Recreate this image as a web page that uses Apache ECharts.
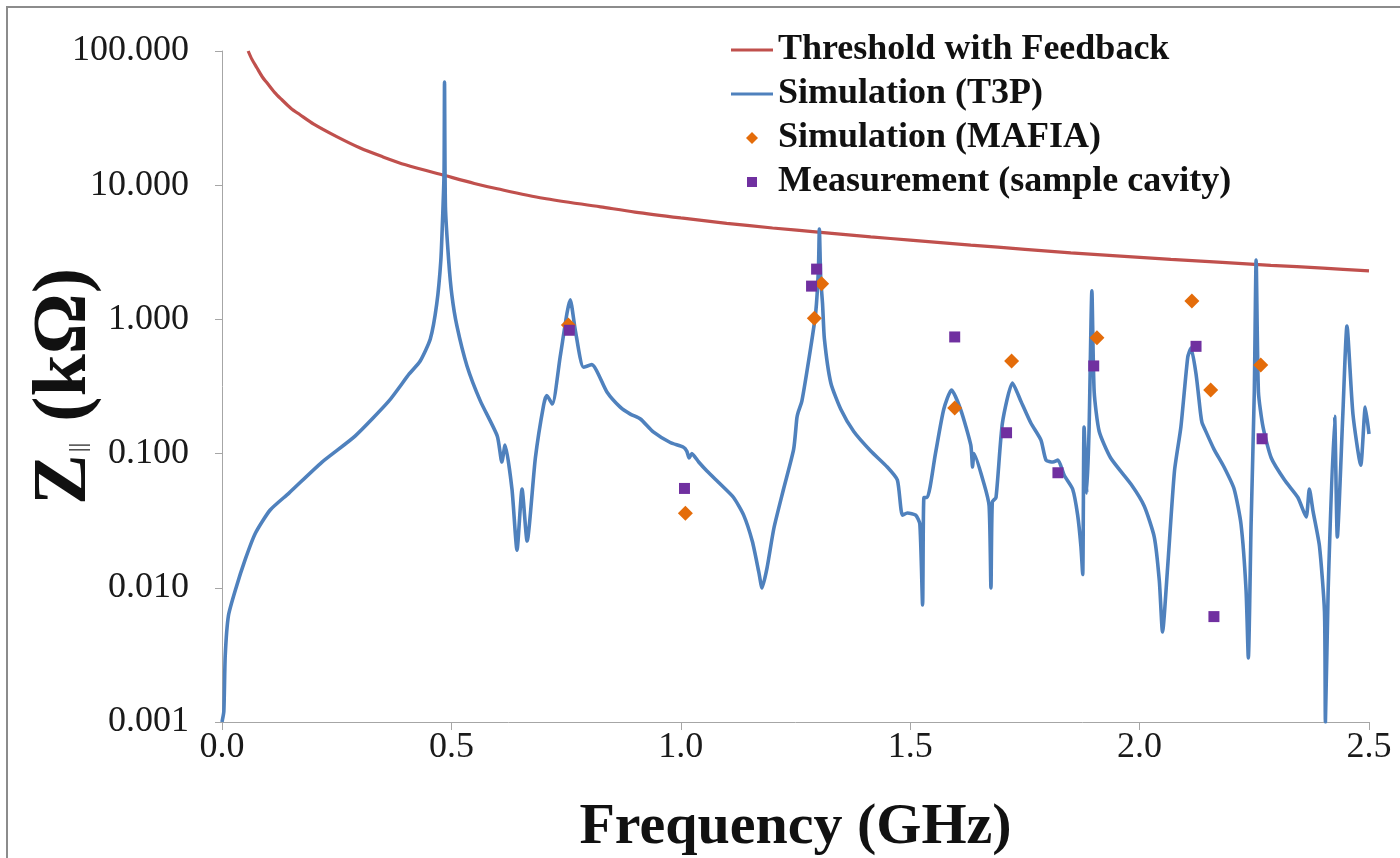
<!DOCTYPE html>
<html>
<head>
<meta charset="utf-8">
<script src="https://cdn.jsdelivr.net/npm/echarts@6/dist/echarts.min.js"></script>
<style>
html,body{margin:0;padding:0;background:#fff;}
#chart{width:1400px;height:858px;}
</style>
</head>
<body>
<div id="chart"></div>
<script>
// ---- Data ----
const xTicks = ['0.0','0.5','1.0','1.5','2.0','2.5'];
const yTicks = ['0.001','0.010','0.100','1.000','10.000','100.000'];

const threshFreq = [0.057,0.065,0.076,0.088,0.098,0.115,0.13,0.15,0.17,0.2,0.25,0.3,0.35,0.4,0.486,0.55,0.6,0.7,0.825,0.9,1.0,1.1,1.2,1.305,1.414,1.5,1.632,1.75,1.85,1.95,2.068,2.18,2.286,2.4,2.5];
const threshZ    = [100,87,75,64,58,49,43.5,37.5,33.5,28.5,23,19,16.3,14.2,11.8,10.3,9.4,8.0,6.9,6.3,5.7,5.2,4.8,4.45,4.12,3.9,3.58,3.33,3.13,2.97,2.8,2.66,2.53,2.41,2.3];

const t3pFreq = [0.000,0.004,0.007,0.014,0.029,0.051,0.073,0.105,0.146,0.218,0.290,0.364,0.408,0.432,0.454,0.468,0.477,0.481,0.484,0.485,0.487,0.494,0.501,0.512,0.534,0.563,0.600,0.610,0.617,0.632,0.643,0.654,0.665,0.683,0.701,0.708,0.720,0.737,0.752,0.759,0.770,0.788,0.806,0.839,0.868,0.890,0.912,0.940,0.977,1.005,1.013,1.018,1.024,1.039,1.057,1.086,1.115,1.137,1.156,1.170,1.177,1.188,1.203,1.224,1.246,1.253,1.256,1.264,1.283,1.294,1.300,1.302,1.305,1.309,1.313,1.327,1.349,1.377,1.414,1.450,1.472,1.483,1.494,1.512,1.521,1.527,1.530,1.537,1.555,1.573,1.590,1.610,1.632,1.636,1.639,1.661,1.672,1.676,1.679,1.687,1.701,1.723,1.741,1.763,1.785,1.796,1.811,1.822,1.836,1.854,1.865,1.872,1.876,1.879,1.885,1.890,1.896,1.901,1.912,1.937,1.981,2.010,2.032,2.043,2.050,2.061,2.076,2.090,2.105,2.112,2.123,2.133,2.136,2.140,2.162,2.184,2.206,2.221,2.232,2.237,2.243,2.250,2.254,2.259,2.269,2.287,2.316,2.345,2.363,2.370,2.378,2.392,2.403,2.405,2.411,2.425,2.431,2.443,2.452,2.465,2.482,2.492,2.500];
const t3pZ    = [0.001,0.0012,0.0031,0.0062,0.0096,0.0164,0.0256,0.038,0.0508,0.0865,0.135,0.247,0.392,0.49,0.714,1.30,2.77,5.9,12.5,58.8,6.9,2.77,1.52,0.893,0.45,0.247,0.135,0.0865,0.116,0.0545,0.0191,0.0545,0.0223,0.0927,0.230,0.271,0.234,0.525,1.116,1.40,0.834,0.44,0.46,0.288,0.222,0.197,0.181,0.145,0.121,0.112,0.1045,0.0927,0.100,0.0865,0.0741,0.0593,0.0471,0.0348,0.0221,0.0131,0.00998,0.0141,0.0279,0.0545,0.108,0.184,0.204,0.247,0.612,1.12,2.38,4.72,2.0,1.30,0.714,0.336,0.213,0.146,0.1045,0.0794,0.0635,0.0348,0.0361,0.0348,0.0298,0.00745,0.0471,0.0471,0.100,0.213,0.298,0.213,0.116,0.0794,0.100,0.0593,0.0407,0.00998,0.0436,0.0471,0.169,0.336,0.247,0.169,0.126,0.0895,0.0865,0.0895,0.0687,0.0545,0.0348,0.0205,0.01256,0.158,0.0508,0.158,1.63,0.288,0.146,0.0927,0.0593,0.0407,0.0239,0.01125,0.00468,0.0141,0.0741,0.158,0.525,0.612,0.392,0.197,0.17,0.158,0.108,0.0794,0.0545,0.0298,0.00964,0.0030,0.0298,0.288,2.77,0.288,0.158,0.0927,0.0635,0.0471,0.0337,0.0545,0.0373,0.0205,0.0066,0.001,0.00964,0.19,0.0239,0.197,0.893,0.197,0.082,0.222,0.14];

const mafiaFreq = [0.755,1.010,1.291,1.307,1.597,1.721,1.907,2.114,2.155,2.264];
const mafiaZ    = [0.91,0.036,1.02,1.84,0.219,0.49,0.73,1.37,0.298,0.457];

const measFreq = [0.757,1.008,1.285,1.296,1.597,1.710,1.822,1.900,2.123,2.162,2.267];
const measZ    = [0.83,0.055,1.77,2.37,0.74,0.143,0.072,0.45,0.63,0.0061,0.129];

const seriesNames = ['Threshold with Feedback','Simulation (T3P)','Simulation (MAFIA)','Measurement (sample cavity)'];

// ---- Build chart ----
const zip = (a, b) => a.map((v, i) => [v, b[i]]);
const FONT = '"Liberation Serif", "Times New Roman", serif';
const C_RED = '#C0504D', C_BLUE = '#4F81BD', C_ORANGE = '#E46C0A', C_PURPLE = '#7030A0';

// legend icons: invisible corner points fix the 42x13 box so shapes are not stretched
const BOX = 'M0 0L0 0M42 13L42 13';
const ICON_LINE = 'path://' + BOX + 'M0 5H42V8H0Z';
const ICON_DIAMOND = 'path://' + BOX + 'M21 0.5L27 6.5L21 12.5L15 6.5Z';
const ICON_SQUARE = 'path://' + BOX + 'M16 1.5H26V11.5H16Z';

const chart = echarts.init(document.getElementById('chart'), null, {renderer: 'canvas'});
const option = {
  animation: false,
  backgroundColor: '#ffffff',
  graphic: [{
    type: 'rect', silent: true, z: -1,
    shape: {x: 7, y: 7, width: 1460, height: 920},
    style: {fill: 'none', stroke: '#8c8c8c', lineWidth: 2}
  }],
  grid: {left: 222, right: 31, top: 51, bottom: 136, containLabel: false, outerBoundsMode: 'none'},
  legend: {
    orient: 'vertical', left: 726, top: 27,
    itemWidth: 42, itemHeight: 13, itemGap: 8,
    symbolKeepAspect: false,
    data: [
      {name: seriesNames[0], icon: ICON_LINE, itemStyle: {color: C_RED}},
      {name: seriesNames[1], icon: ICON_LINE, itemStyle: {color: C_BLUE}},
      {name: seriesNames[2], icon: ICON_DIAMOND, itemStyle: {color: C_ORANGE}},
      {name: seriesNames[3], icon: ICON_SQUARE, itemStyle: {color: C_PURPLE}}
    ],
    textStyle: {fontFamily: FONT, fontSize: 36, fontWeight: 'bold', color: '#111', lineHeight: 36}
  },
  xAxis: {
    type: 'value', min: 0, max: 2.5, interval: 0.5,
    axisLine: {show: true, onZero: false, lineStyle: {color: '#a6a6a6', width: 1}},
    axisTick: {show: true, length: 8, lineStyle: {color: '#a6a6a6'}},
    splitLine: {show: false},
    axisLabel: {
      margin: 8, fontFamily: FONT, fontSize: 36, color: '#1a1a1a',
      formatter: v => xTicks[Math.round(v / 0.5)]
    },
    name: 'Frequency (GHz)', nameLocation: 'middle', nameGap: 77, nameMoveOverlap: false,
    nameTextStyle: {fontFamily: FONT, fontSize: 58, fontWeight: 'bold', color: '#111'}
  },
  yAxis: {
    type: 'log', logBase: 10, min: 0.001, max: 100,
    axisLine: {show: true, lineStyle: {color: '#a6a6a6', width: 1}},
    axisTick: {show: true, length: 7, lineStyle: {color: '#a6a6a6'}},
    splitLine: {show: false},
    minorTick: {show: false},
    axisLabel: {
      margin: 33, fontFamily: FONT, fontSize: 36, color: '#1a1a1a',
      formatter: v => yTicks[Math.round(Math.log10(v)) + 3]
    },
    name: '{z|Z}{s|||}{z| (kΩ)}', nameLocation: 'middle', nameGap: 119, nameRotate: 90,
    nameMoveOverlap: false,
    nameTextStyle: {
      fontFamily: FONT, fontSize: 76, fontWeight: 'bold', color: '#111',
      rich: {
        z: {fontFamily: FONT, fontSize: 76, fontWeight: 'bold', color: '#111'},
        s: {fontFamily: FONT, fontSize: 24, fontWeight: 'normal', color: '#111',
            verticalAlign: 'bottom', padding: [0, 2, 12, 2]}
      }
    }
  },
  series: [
    {
      name: seriesNames[0], type: 'line', symbol: 'none', smooth: 0.3,
      data: zip(threshFreq, threshZ),
      lineStyle: {color: C_RED, width: 3.2}, itemStyle: {color: C_RED}, z: 2
    },
    {
      name: seriesNames[1], type: 'line', symbol: 'none', smooth: 0.2,
      data: zip(t3pFreq, t3pZ),
      lineStyle: {color: C_BLUE, width: 3.6, join: 'round'}, itemStyle: {color: C_BLUE}, z: 3
    },
    {
      name: seriesNames[2], type: 'scatter', symbol: 'diamond', symbolSize: 15,
      data: zip(mafiaFreq, mafiaZ),
      itemStyle: {color: C_ORANGE, opacity: 1}, z: 4
    },
    {
      name: seriesNames[3], type: 'scatter', symbol: 'rect', symbolSize: 11,
      data: zip(measFreq, measZ),
      itemStyle: {color: C_PURPLE, opacity: 1}, z: 5
    }
  ]
};
chart.setOption(option);
</script>
</body>
</html>
